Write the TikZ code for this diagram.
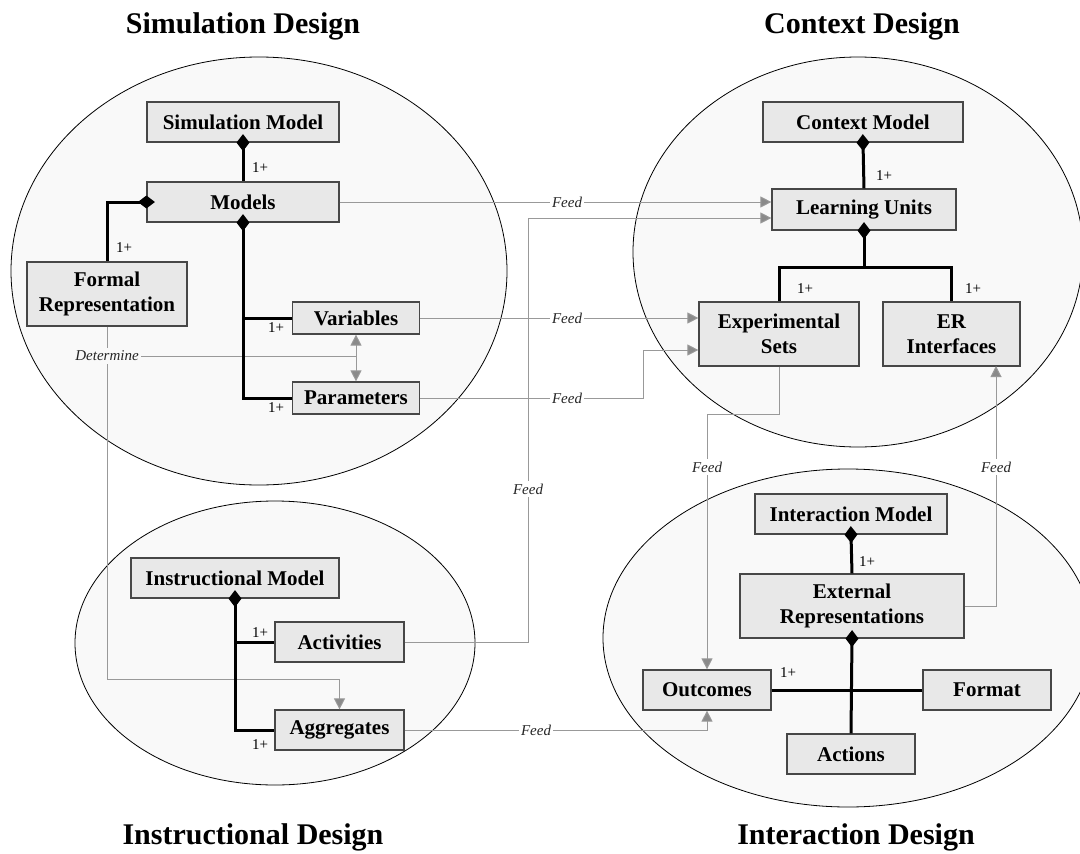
\documentclass[tikz,border=0pt]{standalone}
\usepackage{fontspec}
\setmainfont{Liberation Serif}
\usetikzlibrary{arrows.meta,calc}
\definecolor{regfill}{HTML}{F9F9F9}
\definecolor{boxfill}{HTML}{E8E8E8}
\definecolor{boxline}{HTML}{474747}
\definecolor{feedgray}{HTML}{999999}
\tikzset{
  region/.style={draw=black, line width=0.8pt, fill=regfill},
  box/.style={draw=boxline, line width=1.2pt, fill=boxfill, font=\fontsize{21}{25}\selectfont\bfseries, align=center, inner sep=0pt},
  comp/.style={line width=3pt, draw=black, {Diamond[length=17pt,width=13pt]}-, shorten <=-8.5pt},
  compline/.style={line width=3pt, draw=black},
  feed/.style={draw=feedgray, line width=1pt, -{Triangle[length=11pt,width=11pt,fill=feedgray!90!black]}},
  feedline/.style={draw=feedgray, line width=1pt},
  lbl/.style={font=\fontsize{15}{15}\selectfont\itshape, fill=white, inner sep=2.5pt, text=black!85},
  mult/.style={font=\fontsize{15}{15}\selectfont, inner sep=0pt},
  titletext/.style={font=\fontsize{30}{30}\selectfont\bfseries, anchor=base}
}
\begin{document}
\begin{tikzpicture}[x=1pt,y=-1pt]
\useasboundingbox[fill=white] (0,0) rectangle (1080,854);
% regions
\draw[region] (259,271) ellipse [x radius=248pt, y radius=214pt];
\draw[region] (858,252) ellipse [x radius=225pt, y radius=195pt];
\draw[region] (275,643) ellipse [x radius=200pt, y radius=142pt];
\draw[region] (848,638) ellipse [x radius=245pt, y radius=169pt];
% titles
\node[titletext] (t1) at (243,33) {Simulation Design};
\node[titletext] (t2) at (862,33) {Context Design};
\node[titletext] (t3) at (253,844) {Instructional Design};
\node[titletext] (t4) at (856,844) {Interaction Design};
% simulation boxes
\node[box, minimum width=192pt, minimum height=40pt] (sm) at (243,122) {Simulation Model};
\node[box, minimum width=192pt, minimum height=40pt] (mod) at (243,202) {Models};
\node[box, minimum width=160pt, minimum height=64pt] (fr) at (107,294) {Formal\\Representation};
\node[box, minimum width=127pt, minimum height=32pt] (var) at (356,318) {Variables};
\node[box, minimum width=127pt, minimum height=32pt] (par) at (356,398) {Parameters};
% context boxes
\node[box, minimum width=200pt, minimum height=40pt] (cm) at (863,122) {Context Model};
\node[box, minimum width=184pt, minimum height=41pt] (lu) at (864,209.5) {Learning Units};
\node[box, minimum width=160pt, minimum height=64pt] (exp) at (779,334) {Experimental\\Sets};
\node[box, minimum width=137pt, minimum height=64pt] (er) at (951.5,334) {ER\\Interfaces};
% instructional boxes
\node[box, minimum width=208pt, minimum height=40pt] (im) at (235,578) {Instructional Model};
\node[box, minimum width=129pt, minimum height=40pt] (act) at (339.5,642) {Activities};
\node[box, minimum width=129pt, minimum height=40pt] (agg) at (339.5,730) {Aggregates};
% interaction boxes
\node[box, minimum width=192pt, minimum height=40pt] (intm) at (851,514) {Interaction Model};
\node[box, minimum width=224pt, minimum height=64pt] (ext) at (852,606) {External\\Representations};
\node[box, minimum width=128pt, minimum height=40pt] (out) at (707,690) {Outcomes};
\node[box, minimum width=128pt, minimum height=40pt] (fmt) at (987,690) {Format};
\node[box, minimum width=128pt, minimum height=40pt] (actn) at (851,754) {Actions};
% feed connectors
\draw[feed] (mod.east) -- (mod.east -| lu.west);
\coordinate (a1) at (528,218);
\draw[feed] (act.east) -| (a1) -- (a1 -| lu.west);
\draw[feed] (var.east) -- (var.east -| exp.west);
\coordinate (p1) at (643,350);
\draw[feed] (par.east) -| (p1) -- (p1 -| exp.west);
\coordinate (e1) at (707,414);
\draw[feed] (exp.south) |- (e1) -- (out.north);
\coordinate (e2) at (996,366);
\draw[feed] (ext.east) -| (e2);
\draw[feed] (agg.east) -| (out.south);
\coordinate (fa) at (agg.north |- 0,679);
\draw[feed] (fr.south) |- (fa) -- (agg.north);
\node[lbl, fill=regfill] (det) at (107,356) {Determine};
\draw[feedline] (det.east) -- (det.east -| var.south);
\draw[feedline, {Triangle[length=11pt,width=11pt,fill=feedgray!90!black]}-{Triangle[length=11pt,width=11pt,fill=feedgray!90!black]}] (var.south) -- (par.north);
% feed labels
\node[lbl] (fl1) at (567,202) {Feed};
\node[lbl] (fl2) at (567,318) {Feed};
\node[lbl] (fl3) at (567,398) {Feed};
\node[lbl] (fl4) at (528,489) {Feed};
\node[lbl] (fl5) at (707,467) {Feed};
\node[lbl] (fl6) at (996,467) {Feed};
\node[lbl] (fl7) at (536,730) {Feed};
% composition: simulation
\draw[comp] (sm.south) -- (mod.north);
\draw[comp] (mod.west) -| (fr.north);
\draw[comp] (mod.south) |- (par.west);
\draw[compline] (mod.south |- var.west) -- (var.west);
% composition: context
\coordinate (c1) at (864,267);
\draw[comp] (cm.south) -- (lu.north);
\draw[comp] (lu.south) -- (c1);
\draw[compline] (exp.north) |- (c1) -| (er.north);
% composition: instructional
\draw[comp] (im.south) |- (agg.west);
\draw[compline] (im.south |- act.west) -- (act.west);
% composition: interaction
\draw[comp] (intm.south) -- (ext.north);
\draw[comp] (ext.south) -- (actn.north);
\draw[compline] (out.east) -- (fmt.west);
% multiplicities
\node[mult] (m1) at (260,168) {1+};
\node[mult] (m2) at (124,248) {1+};
\node[mult] (m3) at (276,328) {1+};
\node[mult] (m4) at (276,408) {1+};
\node[mult] (m5) at (884,176) {1+};
\node[mult] (m6) at (805,289) {1+};
\node[mult] (m7) at (973,289) {1+};
\node[mult] (m8) at (260,633) {1+};
\node[mult] (m9) at (260,745) {1+};
\node[mult] (m10) at (867,562) {1+};
\node[mult] (m11) at (788,673) {1+};
\end{tikzpicture}
\end{document}
